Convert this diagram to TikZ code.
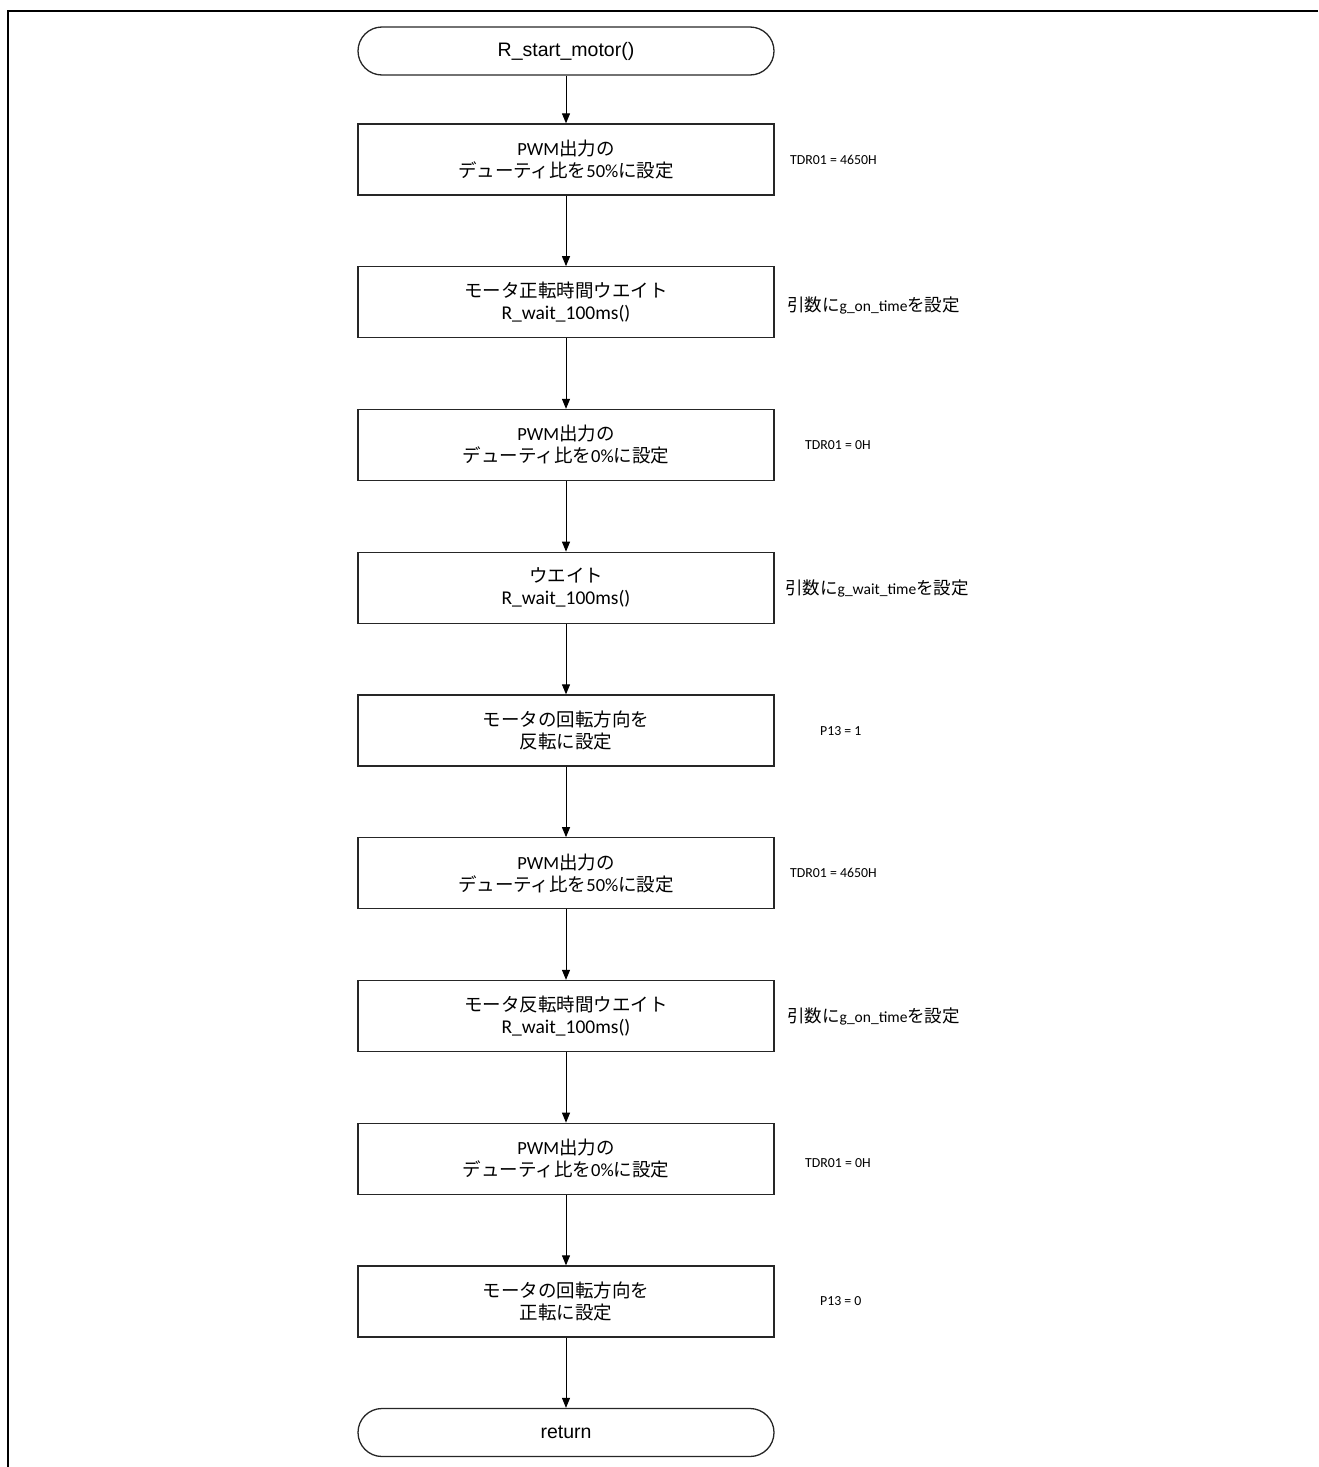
\documentclass[tikz,border=0pt]{standalone}
\usepackage{fontspec}
\setmainfont{Carlito}
\newfontfamily\jp{Noto Sans CJK JP}
\newfontfamily\arialf{Liberation Sans}
\usetikzlibrary{arrows.meta}
\newcommand{\nj}[1]{{\jp\fontsize{17.5}{19}\selectfont #1}}
\newcommand{\fn}[1]{{\fontsize{19.5}{22}\selectfont #1}}
\begin{document}
\begin{tikzpicture}[x=1pt,y=-1pt,
 procbox/.style={draw=black!85, line width=1.3pt, minimum width=416pt, minimum height=71pt, align=center, inner sep=0pt, font=\fontsize{18.5}{22}\selectfont},
 termbox/.style={draw=black!85, line width=1.3pt, rounded corners=24pt, minimum width=416pt, minimum height=48pt, inner sep=0pt, font=\arialf\fontsize{19.5}{22}\selectfont},
 note/.style={anchor=west, inner sep=0pt, font=\fontsize{13.8}{16}\selectfont},
 mixnote/.style={anchor=west, inner sep=0pt, font=\fontsize{15.5}{18}\selectfont},
 flow/.style={draw=black, line width=1pt, -{Triangle[length=10pt,width=8pt]}}]
\useasboundingbox (0,0) rectangle (1318,1467);
\draw[line width=2.7pt, line cap=butt] (1318,11) -- (8,11) -- (8,1467);

\node[termbox] (t0) at (566,51) {R\_start\_motor()};
\node[procbox] (b1) at (566,159.5) {PWM{\jp 出力の}\\{\jp デューティ比を}50\%{\jp に設定}};
\node[procbox] (b2) at (566,302.3) {{\jp モータ正転時間ウエイト}\\\fn{R\_wait\_100ms()}};
\node[procbox] (b3) at (566,445) {PWM{\jp 出力の}\\{\jp デューティ比を}0\%{\jp に設定}};
\node[procbox] (b4) at (566,587.8) {{\jp ウエイト}\\\fn{R\_wait\_100ms()}};
\node[procbox] (b5) at (566,730.5) {{\jp モータの回転方向を}\\{\jp 反転に設定}};
\node[procbox] (b6) at (566,873.3) {PWM{\jp 出力の}\\{\jp デューティ比を}50\%{\jp に設定}};
\node[procbox] (b7) at (566,1016) {{\jp モータ反転時間ウエイト}\\\fn{R\_wait\_100ms()}};
\node[procbox] (b8) at (566,1158.8) {PWM{\jp 出力の}\\{\jp デューティ比を}0\%{\jp に設定}};
\node[procbox] (b9) at (566,1301.5) {{\jp モータの回転方向を}\\{\jp 正転に設定}};
\node[termbox] (t1) at (566,1432.5) {return};

\node[note] (n1) at (790,159.5) {TDR01 = 4650H};
\node[mixnote] (n2) at (787,305) {\nj{引数に}g\_on\_time\nj{を設定}};
\node[note] (n3) at (805,445) {TDR01 = 0H};
\node[mixnote] (n4) at (785,588) {\nj{引数に}g\_wait\_time\nj{を設定}};
\node[note] (n5) at (820,731) {P13 = 1};
\node[note] (n6) at (790,873.3) {TDR01 = 4650H};
\node[mixnote] (n7) at (787,1016) {\nj{引数に}g\_on\_time\nj{を設定}};
\node[note] (n8) at (805,1163) {TDR01 = 0H};
\node[note] (n9) at (820,1301.5) {P13 = 0};

\draw[flow] (t0) -- (b1);
\draw[flow] (b1) -- (b2);
\draw[flow] (b2) -- (b3);
\draw[flow] (b3) -- (b4);
\draw[flow] (b4) -- (b5);
\draw[flow] (b5) -- (b6);
\draw[flow] (b6) -- (b7);
\draw[flow] (b7) -- (b8);
\draw[flow] (b8) -- (b9);
\draw[flow] (b9) -- (t1);
\end{tikzpicture}
\end{document}
